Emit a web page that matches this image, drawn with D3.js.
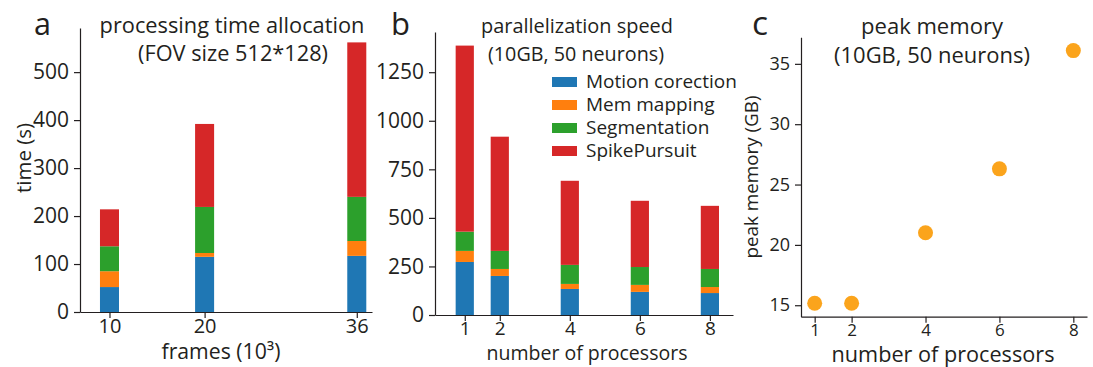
<!DOCTYPE html>
<html>
<head>
<meta charset="utf-8">
<script src="https://cdn.jsdelivr.net/npm/d3@7"></script>
<style>
  body { margin: 0; background: #fff; }
  text { font-family: "Open Sans", "Noto Sans", sans-serif; fill: #231f20; }
  .axis path, .axis line { stroke: #231f20; stroke-width: 1.2; }
  .axis text { fill: #231f20; }
</style>
</head>
<body>
<svg id="fig" width="1093" height="367"></svg>
<script>
// data
const stages = ["Motion corection", "Mem mapping", "Segmentation", "SpikePursuit"];
const stageColors = ["#1f77b4", "#ff7f0e", "#2ca02c", "#d62728"];

// panel a: frames (10^3) vs time per stage (s)
const framesK = [10, 20, 36];
const timeMotion = [52, 115, 117];
const timeMem = [33, 8, 31];
const timeSeg = [52, 96, 92];
const timeSpike = [77, 173, 322];

// panel b: processors vs time per stage (s)
const procs = [1, 2, 4, 6, 8];
const parMotion = [273, 201, 134, 119, 113];
const parMem = [57, 36, 26, 36, 31];
const parSeg = [99, 93, 98, 92, 93];
const parSpike = [958, 588, 433, 341, 325];

// panel c: peak memory (GB)
const peakMem = [15.17, 15.17, 21.0, 26.3, 36.1];

const yTicksA = [0, 100, 200, 300, 400, 500];
const yTicksB = [0, 250, 500, 750, 1000, 1250];
const yTicksC = [15, 20, 25, 30, 35];

const svg = d3.select("#fig");

function stackRows(keys, cols) {
  return keys.map((k, i) => {
    let row = { key: k };
    stages.forEach((s, j) => row[s] = cols[j][i]);
    return row;
  });
}

function drawStacked(g, rows, x, y, halfWidth) {
  const series = d3.stack().keys(stages)(rows);
  series.forEach((s, j) => {
    g.append("g")
      .attr("fill", stageColors[j])
      .selectAll("rect")
      .data(s)
      .join("rect")
      .attr("x", d => x(d.data.key - halfWidth))
      .attr("width", d => x(d.data.key + halfWidth) - x(d.data.key - halfWidth))
      .attr("y", d => y(d[1]))
      .attr("height", d => y(d[0]) - y(d[1]));
  });
}

function drawAxes(g, x, y, xTicks, yTicks, fy, fx) {
  const ya = g.append("g").attr("class", "axis")
    .attr("transform", `translate(${x.range()[0]},0)`)
    .call(d3.axisLeft(y).tickValues(yTicks).tickFormat(d3.format("d"))
      .tickSize(6).tickSizeOuter(0).tickPadding(5));
  const xa = g.append("g").attr("class", "axis")
    .attr("transform", `translate(0,${y.range()[0]})`)
    .call(d3.axisBottom(x).tickValues(xTicks).tickFormat(d3.format("d"))
      .tickSize(6).tickSizeOuter(0).tickPadding(1));
  ya.selectAll("text").style("font-size", fy + "px");
  xa.selectAll("text").style("font-size", fx + "px");
  [ya, xa].forEach(a => a.selectAll("text").style("font-family", '"Open Sans", sans-serif'));
}

// write a text and size it so it spans the width
function label(txt, x, y, width, anchor, rotate) {
  const t = svg.append("text")
    .attr("text-anchor", anchor || "middle")
    .style("font-size", "20px")
    .text(txt);
  if (rotate) t.attr("transform", `translate(${x},${y}) rotate(-90)`);
  else t.attr("x", x).attr("y", y);
  const w = t.node().getComputedTextLength();
  t.style("font-size", (20 * width / w).toFixed(2) + "px");
  return t;
}

// ---------- panel a ----------
const xA = d3.scaleLinear().domain([6.9, 37.6]).range([80, 372]);
const yA = d3.scaleLinear().domain([0, 592]).range([312, 28]);
const gA = svg.append("g");
drawStacked(gA, stackRows(framesK, [timeMotion, timeMem, timeSeg, timeSpike]), xA, yA, 1);
drawAxes(gA, xA, yA, framesK, yTicksA, 21, 20);
label("a", 34, 35, 17, "start");
label("processing time allocation", 232, 33, 265);
label("(FOV size 512*128)", 233, 61, 190);
label("time (s)", 31, 158, 70, "middle", true);
label("frames (10³)", 221, 359, 119);

// ---------- panel b ----------
const xB = d3.scaleLinear().domain([0.15, 8.66]).range([435, 733]);
const yB = d3.scaleLinear().domain([0, 1457]).range([315, 32]);
const gB = svg.append("g");
drawStacked(gB, stackRows(procs, [parMotion, parMem, parSeg, parSpike]), xB, yB, 0.26);
drawAxes(gB, xB, yB, procs, yTicksB, 21, 19);
label("b", 391, 35, 19, "start");
label("parallelization speed", 577, 33, 192);
label("(10GB, 50 neurons)", 576, 61, 176);
label("number of processors", 587, 360, 201);

const leg = svg.append("g").attr("transform", "translate(552,77)");
stages.forEach((s, i) => {
  leg.append("rect").attr("x", 0).attr("y", i * 23).attr("width", 25).attr("height", 10)
    .attr("fill", stageColors[i]);
  leg.append("text").attr("x", 34).attr("y", i * 23 + 11)
    .style("font-size", "19px").text(s);
});

// ---------- panel c ----------
const xC = d3.scaleLinear().domain([0.63, 8.37]).range([801, 1087]);
const yC = d3.scaleLinear().domain([14.05, 37.2]).range([316.7, 37.3]);
const gC = svg.append("g");
drawAxes(gC, xC, yC, procs, yTicksC, 18, 17);
gC.selectAll("circle")
  .data(procs)
  .join("circle")
  .attr("cx", d => xC(d))
  .attr("cy", (d, i) => yC(peakMem[i]))
  .attr("r", 7.5)
  .attr("fill", "#fba41c");
label("c", 752, 35, 16, "start");
label("peak memory", 932, 34, 142);
label("(10GB, 50 neurons)", 932, 63, 196);
label("peak memory (GB)", 758, 177, 163, "middle", true);
label("number of processors", 943, 362, 223);
</script>
</body>
</html>
